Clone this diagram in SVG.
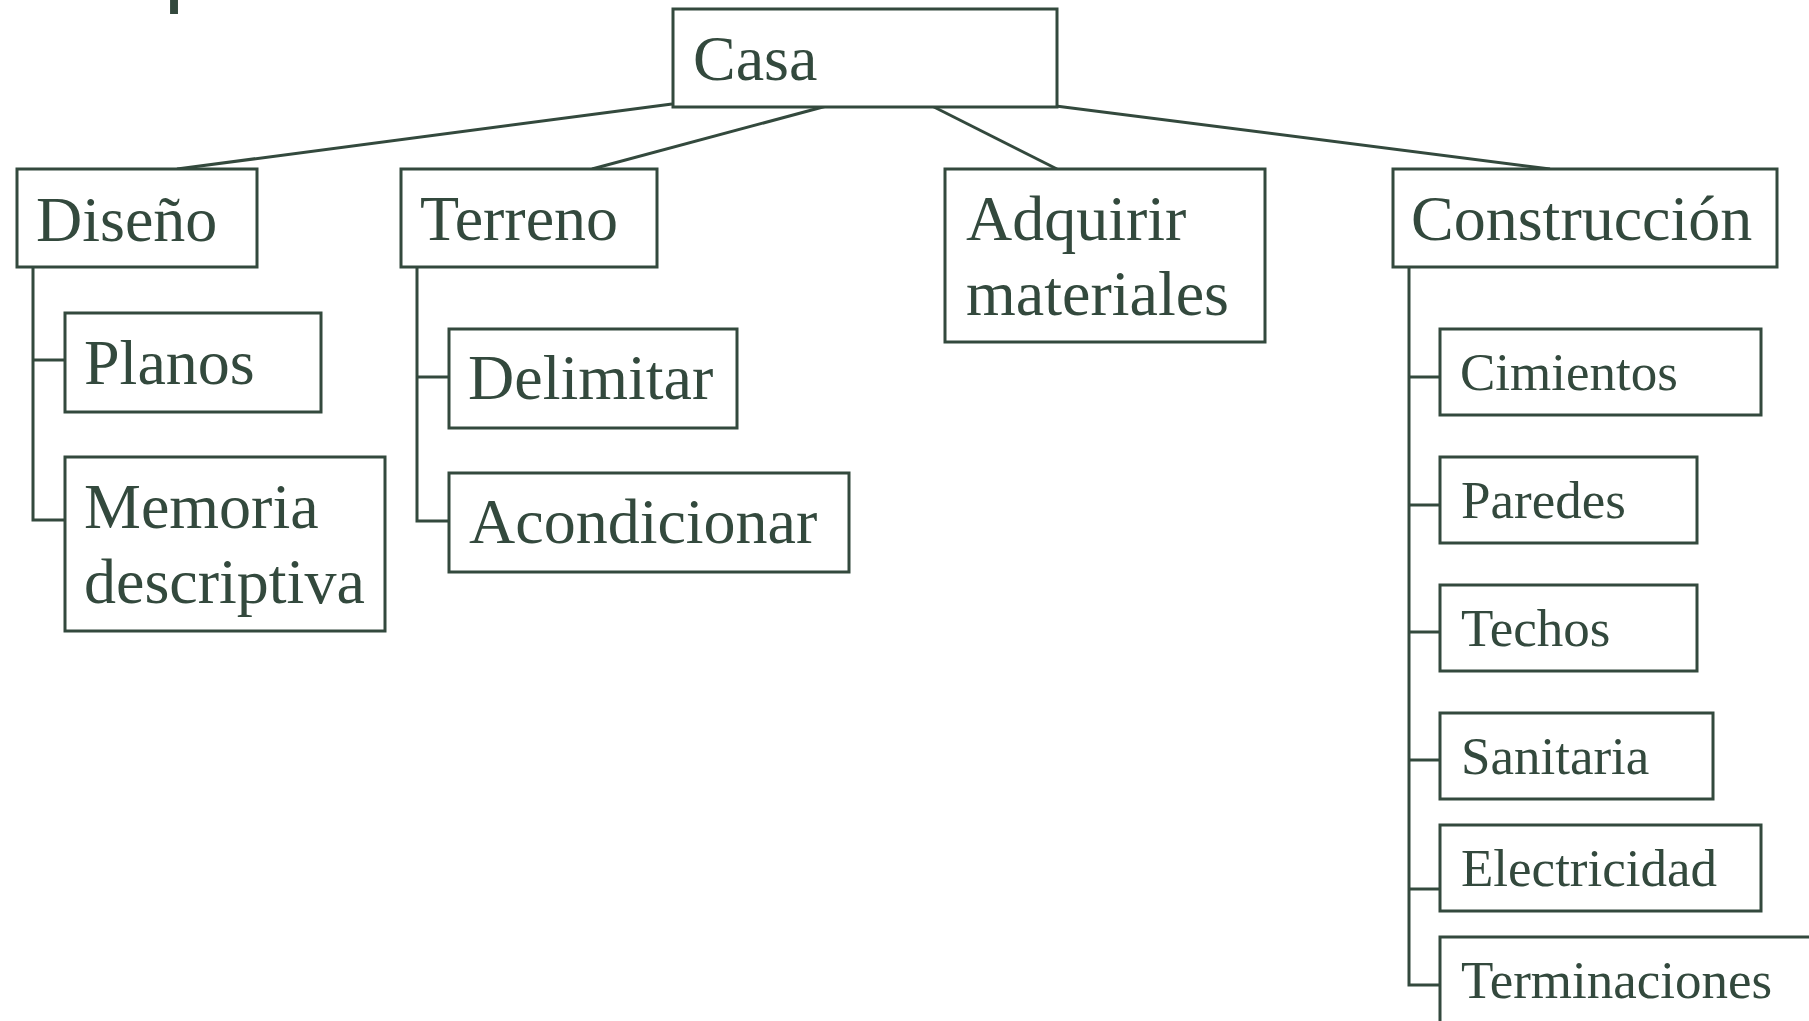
<svg xmlns="http://www.w3.org/2000/svg" width="1809" height="1021" viewBox="0 0 1809 1021">
<style>
  .box { fill: #ffffff; stroke: #33493D; stroke-width: 3; }
  .conn line, .conn polyline { stroke: #33493D; stroke-width: 3; fill: none; }
  .t { font-family: "Liberation Serif", "Times New Roman", serif; fill: #33493D; }
  .big { font-size: 64px; }
  .small { font-size: 53px; }
</style>
<rect width="1809" height="1021" fill="#ffffff"/>
<text x="164" y="-5" font-family="Liberation Sans, Arial, sans-serif" font-size="90" fill="#33493D">p</text>
<g id="connectors" class="conn">
  <line x1="672" y1="104" x2="177" y2="169"/>
  <line x1="834" y1="104" x2="592" y2="169"/>
  <line x1="928" y1="104" x2="1057" y2="169"/>
  <line x1="1040" y1="104" x2="1550" y2="169"/>
  <polyline points="33,265 33,520 65,520"/>
  <line x1="33" y1="360" x2="65" y2="360"/>
  <polyline points="417,265 417,521 449,521"/>
  <line x1="417" y1="377" x2="449" y2="377"/>
  <polyline points="1409,265 1409,985 1440,985"/>
  <line x1="1409" y1="377" x2="1440" y2="377"/>
  <line x1="1409" y1="505" x2="1440" y2="505"/>
  <line x1="1409" y1="632" x2="1440" y2="632"/>
  <line x1="1409" y1="760" x2="1440" y2="760"/>
  <line x1="1409" y1="889" x2="1440" y2="889"/>
</g>
<g id="casa"><rect class="box" x="673" y="9" width="384" height="98"/><text class="t big" x="693" y="80">Casa</text></g>
<g id="diseno"><rect class="box" x="17" y="169" width="240" height="98"/><text class="t big" x="36" y="241">Diseño</text></g>
<g id="terreno"><rect class="box" x="401" y="169" width="256" height="98"/><text class="t big" x="420" y="240">Terreno</text></g>
<g id="adquirir"><rect class="box" x="945" y="169" width="320" height="173"/><text class="t big" x="966" y="240">Adquirir</text><text class="t big" x="966" y="315">materiales</text></g>
<g id="construccion"><rect class="box" x="1393" y="169" width="384" height="98"/><text class="t big" x="1411" y="240">Construcción</text></g>
<g id="planos"><rect class="box" x="65" y="313" width="256" height="99"/><text class="t big" x="84" y="384">Planos</text></g>
<g id="memoria"><rect class="box" x="65" y="457" width="320" height="174"/><text class="t big" x="84" y="528">Memoria</text><text class="t big" x="84" y="603">descriptiva</text></g>
<g id="delimitar"><rect class="box" x="449" y="329" width="288" height="99"/><text class="t big" x="468" y="399">Delimitar</text></g>
<g id="acondicionar"><rect class="box" x="449" y="473" width="400" height="99"/><text class="t big" x="469" y="543">Acondicionar</text></g>
<g id="cimientos"><rect class="box" x="1440" y="329" width="321" height="86"/><text class="t small" x="1460" y="390">Cimientos</text></g>
<g id="paredes"><rect class="box" x="1440" y="457" width="257" height="86"/><text class="t small" x="1461" y="518">Paredes</text></g>
<g id="techos"><rect class="box" x="1440" y="585" width="257" height="86"/><text class="t small" x="1461" y="646">Techos</text></g>
<g id="sanitaria"><rect class="box" x="1440" y="713" width="273" height="86"/><text class="t small" x="1461" y="774">Sanitaria</text></g>
<g id="electricidad"><rect class="box" x="1440" y="825" width="321" height="86"/><text class="t small" x="1461" y="886">Electricidad</text></g>
<g id="terminaciones"><rect class="box" x="1440" y="937" width="400" height="120"/><text class="t small" x="1461" y="998">Terminaciones</text></g>
</svg>
